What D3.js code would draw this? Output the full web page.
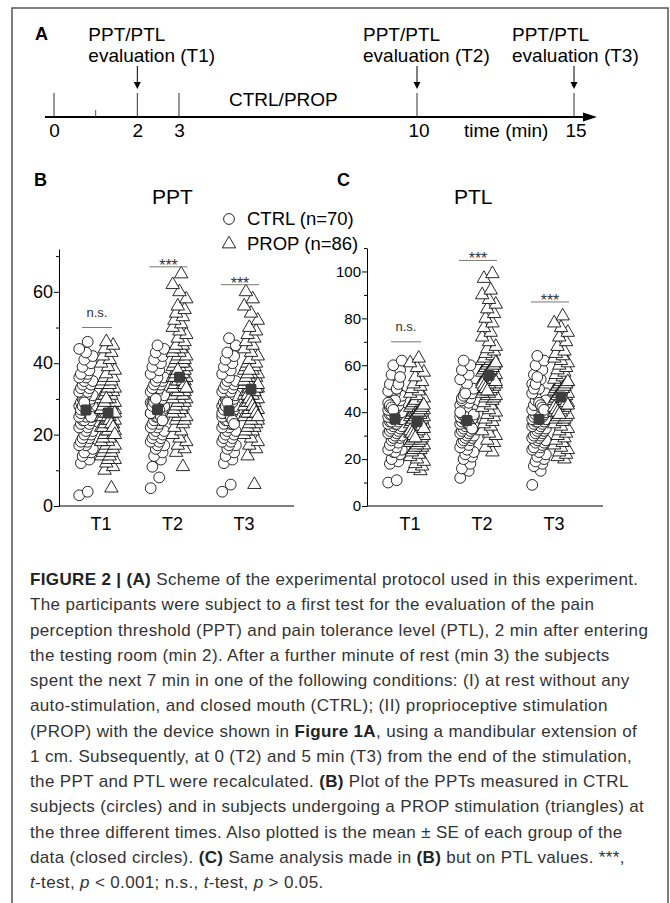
<!DOCTYPE html>
<html>
<head>
<meta charset="utf-8">
<script src="https://cdn.jsdelivr.net/npm/d3@7"></script>
<style>
  body { margin: 0; background: #fff; }
  svg text { font-family: "Liberation Sans", Arial, Helvetica, sans-serif; }
</style>
</head>
<body>
<div id="chart"></div>
<script>
// ---- data ----
var times = ['T1', 'T2', 'T3']

// panel A timeline (minutes)
var timeTicks = [0, 2, 3, 10, 15]
var minorTimeTicks = [1]
var evalTimes = [2, 10, 15]

// panel B: PPT values
var pptCtrlT1 = [3, 4, 12, 13, 14, 15, 15, 16, 17, 17, 18, 18, 19, 19, 20, 20, 21, 21, 22, 22, 23, 23, 24, 24, 24, 25, 25, 25, 26, 26, 26, 27, 27, 27, 28, 28, 28, 29, 29, 29, 30, 30, 30, 31, 31, 32, 32, 33, 33, 34, 34, 35, 35, 36, 36, 37, 37, 38, 39, 40, 41, 42, 43, 44, 46, 27, 26, 28, 25, 29]
var pptPropT1 = [5, 10, 11, 12, 13, 13, 14, 14, 15, 15, 16, 16, 17, 17, 18, 18, 19, 19, 20, 20, 20, 21, 21, 21, 22, 22, 22, 23, 23, 23, 24, 24, 24, 25, 25, 25, 26, 26, 26, 26, 27, 27, 27, 27, 28, 28, 28, 29, 29, 29, 30, 30, 30, 31, 31, 31, 32, 32, 33, 33, 34, 34, 35, 35, 36, 36, 37, 38, 39, 40, 41, 42, 43, 44, 45, 46, 26, 25, 27, 24, 28, 23, 29, 22, 30, 20]
var pptCtrlT2 = [5, 8, 11, 13, 14, 15, 16, 17, 17, 18, 18, 19, 19, 20, 20, 21, 21, 22, 22, 23, 23, 24, 24, 24, 25, 25, 25, 26, 26, 26, 27, 27, 27, 28, 28, 28, 29, 29, 29, 30, 30, 30, 31, 31, 32, 32, 33, 33, 34, 34, 35, 35, 36, 36, 37, 38, 39, 40, 41, 42, 43, 44, 45, 26, 27, 28, 25, 29, 24, 30]
var pptPropT2 = [11, 15, 16, 17, 18, 19, 20, 21, 22, 23, 24, 24, 25, 25, 26, 26, 27, 27, 28, 28, 29, 29, 30, 30, 30, 31, 31, 31, 32, 32, 32, 33, 33, 33, 34, 34, 34, 35, 35, 35, 36, 36, 36, 37, 37, 37, 38, 38, 38, 39, 39, 39, 40, 40, 40, 41, 41, 42, 42, 43, 43, 44, 44, 45, 45, 46, 47, 48, 49, 50, 51, 52, 53, 54, 55, 56, 58, 60, 62, 65, 36, 35, 37, 34, 38, 33]
var pptCtrlT3 = [4, 6, 12, 13, 14, 15, 16, 17, 17, 18, 18, 19, 19, 20, 20, 21, 21, 22, 22, 23, 23, 23, 24, 24, 24, 25, 25, 25, 26, 26, 26, 27, 27, 27, 28, 28, 28, 29, 29, 29, 30, 30, 30, 31, 31, 32, 32, 33, 33, 34, 34, 35, 35, 36, 37, 38, 39, 40, 41, 42, 43, 45, 47, 26, 25, 27, 24, 28, 23, 29]
var pptPropT3 = [6, 14, 16, 17, 18, 19, 20, 21, 21, 22, 22, 23, 23, 24, 24, 25, 25, 26, 26, 26, 27, 27, 27, 28, 28, 28, 29, 29, 29, 30, 30, 30, 31, 31, 31, 32, 32, 32, 33, 33, 33, 34, 34, 34, 35, 35, 35, 36, 36, 37, 37, 38, 38, 39, 39, 40, 40, 41, 42, 43, 44, 45, 46, 47, 48, 49, 50, 52, 54, 56, 58, 60, 32, 31, 33, 30, 34, 29, 35, 28, 36, 27, 37, 26, 38, 25]

// panel C: PTL values
var ptlCtrlT1 = [10, 11, 18, 19, 20, 22, 23, 24, 23, 24, 25, 26, 27, 28, 29, 29, 30, 30, 31, 31, 32, 32, 33, 33, 34, 34, 35, 35, 35, 36, 36, 36, 37, 37, 37, 38, 38, 38, 39, 39, 39, 40, 40, 40, 41, 41, 42, 42, 43, 44, 45, 46, 47, 48, 49, 50, 52, 54, 56, 58, 60, 62, 45, 44, 50, 43, 52, 42, 55, 41]
var ptlPropT1 = [15, 16, 17, 18, 19, 20, 21, 22, 23, 24, 24, 25, 25, 26, 26, 27, 27, 28, 28, 29, 29, 30, 30, 31, 31, 32, 32, 33, 33, 34, 34, 35, 35, 35, 36, 36, 36, 37, 37, 37, 38, 38, 38, 39, 39, 39, 40, 40, 40, 41, 41, 42, 42, 43, 43, 44, 44, 45, 46, 47, 48, 49, 50, 51, 52, 53, 55, 57, 59, 61, 63, 36, 35, 37, 34, 38, 33, 39, 32, 40, 31, 41, 30, 42, 29, 43]
var ptlCtrlT2 = [12, 15, 16, 18, 20, 21, 22, 23, 24, 25, 26, 27, 28, 28, 29, 29, 30, 30, 31, 31, 32, 32, 33, 33, 34, 34, 35, 35, 36, 36, 36, 37, 37, 37, 38, 38, 38, 39, 39, 40, 40, 40, 41, 41, 42, 43, 44, 45, 46, 47, 48, 49, 50, 52, 54, 56, 58, 60, 62, 37, 38, 39, 36, 40, 35, 46, 34, 47, 33, 48]
var ptlPropT2 = [23, 25, 27, 28, 30, 31, 32, 34, 35, 36, 37, 38, 39, 40, 41, 42, 43, 44, 45, 46, 46, 47, 47, 48, 48, 49, 49, 50, 50, 51, 51, 52, 52, 53, 53, 54, 54, 55, 55, 56, 56, 57, 57, 58, 58, 59, 59, 60, 60, 61, 61, 62, 62, 63, 64, 65, 66, 67, 68, 70, 72, 74, 76, 78, 80, 82, 84, 86, 88, 90, 92, 97, 99, 55, 54, 56, 53, 57, 52, 58, 51, 59, 50, 60, 49, 61]
var ptlCtrlT3 = [9, 15, 17, 18, 19, 20, 21, 22, 23, 24, 25, 25, 26, 27, 27, 28, 28, 29, 29, 30, 30, 31, 31, 32, 32, 33, 33, 34, 34, 35, 35, 36, 36, 36, 37, 37, 37, 38, 38, 38, 39, 39, 40, 40, 41, 41, 42, 43, 44, 45, 46, 47, 48, 50, 52, 54, 56, 58, 60, 62, 64, 45, 44, 48, 43, 50, 42, 52, 41, 55]
var ptlPropT3 = [20, 21, 22, 23, 24, 25, 26, 27, 28, 29, 30, 31, 32, 33, 34, 35, 36, 37, 37, 38, 38, 39, 39, 40, 40, 41, 41, 42, 42, 43, 43, 44, 44, 45, 45, 46, 46, 47, 47, 48, 48, 49, 49, 50, 50, 51, 51, 52, 52, 53, 53, 54, 55, 56, 57, 58, 59, 60, 61, 62, 63, 64, 65, 66, 68, 70, 72, 74, 76, 78, 81, 46, 45, 47, 44, 48, 43, 49, 42, 50, 41, 51, 40, 52, 39, 53]

// significance marks
var sigLabels = ['n.s.', '***', '***']
var pptSigLevels = [50, 67, 62]
var ptlSigLevels = [70, 104.7, 87]

// ---- drawing ----
var width = 670
var height = 903

var svg = d3.select('#chart')
  .append('svg')
  .attr('width', width)
  .attr('height', height)

svg.append('rect').attr('width', width).attr('height', height).attr('fill', '#fff')

// outer frame
svg.append('rect')
  .attr('x', 12).attr('y', 8)
  .attr('width', 656).attr('height', 910)
  .attr('fill', 'none')
  .attr('stroke', '#555')
  .attr('stroke-width', 1.5)

// ---------- Panel A: protocol timeline ----------
var tScale = d3.scaleLinear().domain([0, 3, 10, 15]).range([54, 179, 417, 574])
var lineY = 117
var panelA = svg.append('g')

panelA.append('text').text('A')
  .attr('x', 35).attr('y', 40)
  .attr('font-size', 18).attr('font-weight', 'bold')

panelA.append('line')
  .attr('x1', 45).attr('x2', 586)
  .attr('y1', lineY).attr('y2', lineY)
  .attr('stroke', '#000').attr('stroke-width', 2)

panelA.append('path')
  .attr('d', 'M583,' + (lineY - 4.5) + 'L597,' + lineY + 'L583,' + (lineY + 4.5) + 'Z')
  .attr('fill', '#000')

panelA.selectAll('.tick-major')
  .data(timeTicks)
  .enter()
  .append('line')
  .attr('x1', d => tScale(d)).attr('x2', d => tScale(d))
  .attr('y1', 93).attr('y2', lineY)
  .attr('stroke', '#333').attr('stroke-width', 1)

panelA.selectAll('.tick-minor')
  .data(minorTimeTicks)
  .enter()
  .append('line')
  .attr('x1', d => tScale(d)).attr('x2', d => tScale(d))
  .attr('y1', 110).attr('y2', lineY)
  .attr('stroke', '#555').attr('stroke-width', 1)

panelA.selectAll('.tick-label')
  .data(timeTicks)
  .enter()
  .append('text')
  .text(d => d)
  .attr('x', d => tScale(d) + (d >= 10 ? 2 : 0.5))
  .attr('y', 137)
  .attr('text-anchor', 'middle')
  .attr('font-size', 19)

panelA.append('text').text('time (min)')
  .attr('x', 464).attr('y', 137)
  .attr('font-size', 19)

panelA.append('text').text('CTRL/PROP')
  .attr('x', 229).attr('y', 106)
  .attr('font-size', 19)

// evaluation labels + arrows (label offsets relative to arrow)
var evalDx = [-49, -54, -62]
evalTimes.forEach(function(t, i) {
  var x = tScale(t)
  panelA.append('text').text('PPT/PTL')
    .attr('x', x + evalDx[i]).attr('y', 41)
    .attr('font-size', 19)
  panelA.append('text').text('evaluation (' + times[i] + ')')
    .attr('x', x + evalDx[i]).attr('y', 62)
    .attr('font-size', 19)
  panelA.append('line')
    .attr('x1', x).attr('x2', x)
    .attr('y1', 66).attr('y2', 83)
    .attr('stroke', '#000').attr('stroke-width', 1)
  panelA.append('path')
    .attr('d', 'M' + (x - 3.5) + ',82L' + (x + 3.5) + ',82L' + x + ',89Z')
    .attr('fill', '#000')
})

// ---------- Panels B and C ----------
var circleR = 5.4
var triangle = d3.symbol().type(d3.symbolTriangle).size(78)
var baseY = 506

// small deterministic horizontal spread so the points don't sit on one line
function spread(i) {
  return ((i * 5) % 9 - 4) * 1.7
}

function drawPanel(cfg) {
  var g = svg.append('g')
  var y = d3.scaleLinear().domain([0, cfg.yMax]).range([baseY, cfg.yTop])
  var x = d3.scalePoint().domain(times).range(cfg.xRange)

  // y axis, major ticks with labels
  var yAxis = g.append('g')
    .attr('transform', 'translate(' + cfg.axisX + ',0)')
    .call(d3.axisLeft(y).tickValues(cfg.major).tickSize(5).tickSizeOuter(0).tickPadding(1))
  yAxis.select('.domain').attr('stroke', '#000')
  yAxis.selectAll('text')
    .attr('font-size', cfg.tickFont)
    .attr('font-family', '"Liberation Sans", Arial, sans-serif')
    .attr('fill', '#000')

  // minor ticks
  var yMinor = g.append('g')
    .attr('transform', 'translate(' + cfg.axisX + ',0)')
    .call(d3.axisLeft(y).tickValues(cfg.minor).tickSize(3).tickFormat(''))
  yMinor.select('.domain').remove()

  // x axis line (no ticks)
  g.append('line')
    .attr('x1', cfg.axisX).attr('x2', cfg.xEnd)
    .attr('y1', baseY).attr('y2', baseY)
    .attr('stroke', '#000').attr('stroke-width', 1)

  g.selectAll('.time-label')
    .data(times)
    .enter()
    .append('text')
    .text(d => d)
    .attr('x', d => x(d) + 4)
    .attr('y', 530)
    .attr('text-anchor', 'middle')
    .attr('font-size', 18)

  times.forEach(function(t, i) {
    var cx = x(t)
    var ctrl = cfg.ctrl[i]
    var prop = cfg.prop[i]

    g.append('g')
      .selectAll('circle')
      .data(ctrl)
      .enter()
      .append('circle')
      .attr('cx', (d, j) => cx - 11 + spread(j))
      .attr('cy', d => y(d))
      .attr('r', circleR)
      .attr('fill', '#fff')
      .attr('stroke', '#111')
      .attr('stroke-width', 0.9)

    g.append('g')
      .selectAll('path')
      .data(prop)
      .enter()
      .append('path')
      .attr('d', triangle)
      .attr('transform', (d, j) => 'translate(' + (cx + 11 + spread(j + 3)) + ',' + y(d) + ')')
      .attr('fill', '#fff')
      .attr('stroke', '#111')
      .attr('stroke-width', 0.9)

    // group means
    ;[[ctrl, -11], [prop, 11]].forEach(function(pair) {
      var m = d3.mean(pair[0])
      g.append('rect')
        .attr('x', cx + pair[1] - 5.5)
        .attr('y', y(m) - 5.5)
        .attr('width', 11).attr('height', 11)
        .attr('rx', 2)
        .attr('fill', '#3d3d3d')
    })

    // significance
    var sy = y(cfg.sig[i])
    var halfW = i === 0 ? 15 : 19
    g.append('line')
      .attr('x1', cx - halfW).attr('x2', cx + halfW)
      .attr('y1', sy).attr('y2', sy)
      .attr('stroke', '#777').attr('stroke-width', 1)
    g.append('text')
      .text(sigLabels[i])
      .attr('x', cx)
      .attr('y', sigLabels[i] === 'n.s.' ? sy - 11 : sy + 4)
      .attr('text-anchor', 'middle')
      .attr('font-size', sigLabels[i] === 'n.s.' ? 13 : 16)
      .attr('fill', '#333')
  })

  g.append('text').text(cfg.letter)
    .attr('x', cfg.letterX).attr('y', 186)
    .attr('font-size', 18).attr('font-weight', 'bold')

  g.append('text').text(cfg.title)
    .attr('x', cfg.titleX).attr('y', 204)
    .attr('font-size', 21)
}

drawPanel({
  letter: 'B', letterX: 34, title: 'PPT', titleX: 152,
  yMax: 72, yTop: 249, axisX: 59, xEnd: 294, xRange: [97, 240],
  major: [0, 20, 40, 60], minor: [10, 30, 50, 70], tickFont: 18,
  ctrl: [pptCtrlT1, pptCtrlT2, pptCtrlT3],
  prop: [pptPropT1, pptPropT2, pptPropT3],
  sig: pptSigLevels
})

drawPanel({
  letter: 'C', letterX: 337, title: 'PTL', titleX: 454,
  yMax: 110, yTop: 248, axisX: 367, xEnd: 603, xRange: [406, 550],
  major: [0, 20, 40, 60, 80, 100], minor: [10, 30, 50, 70, 90, 110], tickFont: 15,
  ctrl: [ptlCtrlT1, ptlCtrlT2, ptlCtrlT3],
  prop: [ptlPropT1, ptlPropT2, ptlPropT3],
  sig: ptlSigLevels
})

// legend
var legend = svg.append('g')
legend.append('circle')
  .attr('cx', 229).attr('cy', 219).attr('r', 5.4)
  .attr('fill', '#fff').attr('stroke', '#111').attr('stroke-width', 0.9)
legend.append('path')
  .attr('d', triangle)
  .attr('transform', 'translate(229,244)')
  .attr('fill', '#fff').attr('stroke', '#111').attr('stroke-width', 0.9)
legend.append('text').text('CTRL (n=70)')
  .attr('x', 247).attr('y', 225).attr('font-size', 18.5)
legend.append('text').text('PROP (n=86)')
  .attr('x', 247).attr('y', 250).attr('font-size', 18.5)

// ---------- caption ----------
var captionLines = [
  [['FIGURE 2 | ', 'b'], ['(A)', 'b'], [' Scheme of the experimental protocol used in this experiment.', '']],
  [['The participants were subject to a first test for the evaluation of the pain', '']],
  [['perception threshold (PPT) and pain tolerance level (PTL), 2 min after entering', '']],
  [['the testing room (min 2). After a further minute of rest (min 3) the subjects', '']],
  [['spent the next 7 min in one of the following conditions: (I) at rest without any', '']],
  [['auto-stimulation, and closed mouth (CTRL); (II) proprioceptive stimulation', '']],
  [['(PROP) with the device shown in ', ''], ['Figure 1A', 'b'], [', using a mandibular extension of', '']],
  [['1 cm. Subsequently, at 0 (T2) and 5 min (T3) from the end of the stimulation,', '']],
  [['the PPT and PTL were recalculated. ', ''], ['(B)', 'b'], [' Plot of the PPTs measured in CTRL', '']],
  [['subjects (circles) and in subjects undergoing a PROP stimulation (triangles) at', '']],
  [['the three different times. Also plotted is the mean \u00b1 SE of each group of the', '']],
  [['data (closed circles). ', ''], ['(C)', 'b'], [' Same analysis made in ', ''], ['(B)', 'b'], [' but on PTL values. ***,', '']],
  [['t', 'i'], ['-test, ', ''], ['p', 'i'], [' < 0.001; n.s., ', ''], ['t', 'i'], ['-test, ', ''], ['p', 'i'], [' > 0.05.', '']]
]

var caption = svg.append('g')
captionLines.forEach(function(line, i) {
  var t = caption.append('text')
    .attr('x', 30)
    .attr('y', 585 + i * 25.25)
    .attr('font-size', 17)
    .attr('letter-spacing', 0.35)
    .attr('fill', '#333')
  line.forEach(function(seg) {
    t.append('tspan')
      .text(seg[0])
      .attr('font-weight', seg[1] === 'b' ? 'bold' : null)
      .attr('font-style', seg[1] === 'i' ? 'italic' : null)
      .attr('fill', seg[1] === 'b' ? '#222' : null)
  })
})
</script>
</body>
</html>
